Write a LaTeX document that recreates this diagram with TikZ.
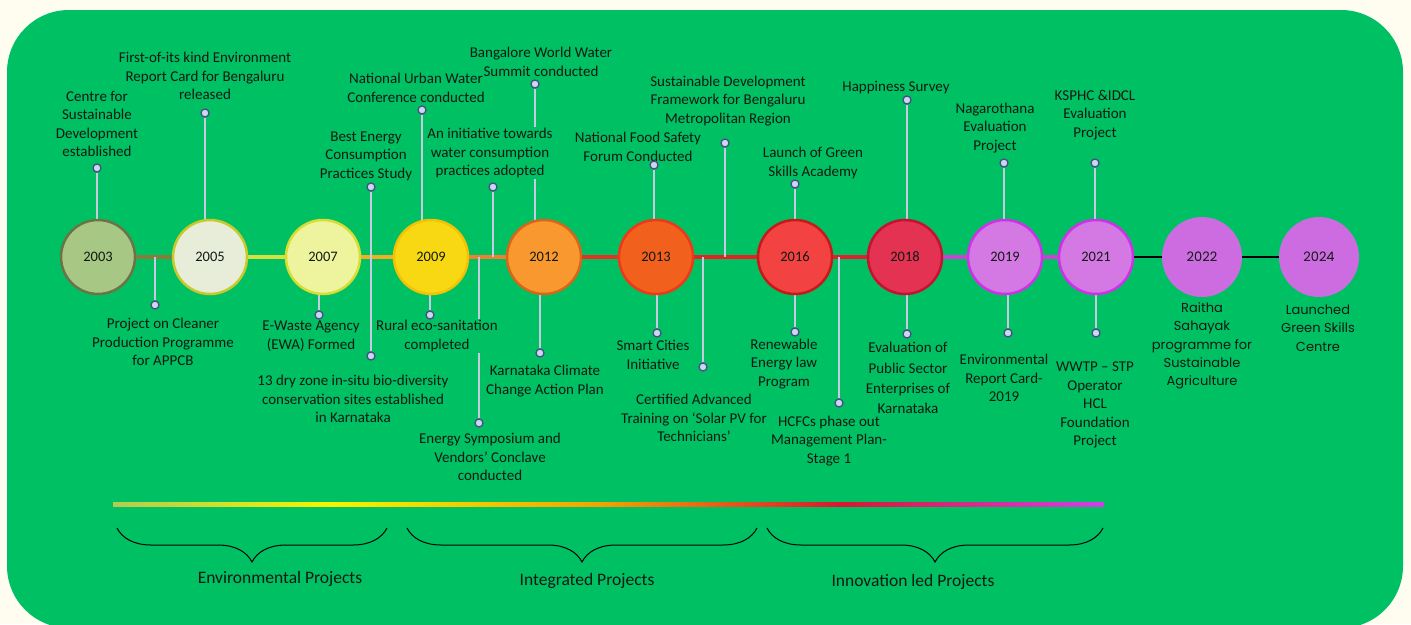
\documentclass[tikz,border=0pt]{standalone}
\usepackage{fontspec}
\setmainfont{Carlito}
\newfontfamily\popfont{Poppins}
\usetikzlibrary{backgrounds, decorations.pathreplacing}

\definecolor{paper}{HTML}{FFFDF0}
\definecolor{boxgreen}{HTML}{00C064}
\definecolor{ink}{HTML}{101A12}
\definecolor{stemgray}{HTML}{C6CBE0}
\definecolor{dotfill}{HTML}{CBD7F2}
\definecolor{dotrim}{HTML}{46507E}
\definecolor{lilac}{HTML}{CC6CE0}
% circle fills and rims
\definecolor{fillA}{HTML}{A6C884}\definecolor{rimA}{HTML}{6C7446}
\definecolor{fillB}{HTML}{E7EDD9}\definecolor{rimB}{HTML}{C9C92A}
\definecolor{fillC}{HTML}{EEF49E}\definecolor{rimC}{HTML}{D9DD32}
\definecolor{fillD}{HTML}{F8D812}\definecolor{rimD}{HTML}{F4C204}
\definecolor{fillE}{HTML}{F8982E}\definecolor{rimE}{HTML}{D8661A}
\definecolor{fillF}{HTML}{F2601E}\definecolor{rimF}{HTML}{F03818}
\definecolor{fillG}{HTML}{F24242}\definecolor{rimG}{HTML}{C81818}
\definecolor{fillH}{HTML}{E43252}\definecolor{rimH}{HTML}{C81030}
\definecolor{fillI}{HTML}{D478E4}\definecolor{rimI}{HTML}{D030E8}
% links
\definecolor{linkA}{HTML}{8B7B3A}
\definecolor{linkB}{HTML}{D8E040}
\definecolor{linkC}{HTML}{F2B020}
\definecolor{linkD}{HTML}{F08030}
\definecolor{linkE}{HTML}{E83020}
\definecolor{linkF}{HTML}{E82020}
\definecolor{linkG}{HTML}{E02030}
\definecolor{linkH}{HTML}{D040D8}
% colour bar
\definecolor{barA}{HTML}{B2CC52}
\definecolor{barB}{HTML}{F6F400}
\definecolor{barC}{HTML}{F2A400}
\definecolor{barD}{HTML}{D81830}
\definecolor{barE}{HTML}{D040E8}

\begin{document}
\begin{tikzpicture}[
        x=1pt, y=-1pt,
        yearnode/.style={circle, minimum size=74pt, inner sep=0pt, line width=2.5pt,
            text=ink, font=\fontsize{14.5}{16}\selectfont},
        lateyear/.style={circle, minimum size=80pt, inner sep=0pt, fill=lilac,
            text=ink, font=\popfont\fontsize{13}{15}\selectfont},
        lbl/.style={align=center, text=ink, inner sep=1pt,
            font=\fontsize{15}{18.5}\selectfont},
        poplbl/.style={align=center, text=ink, inner sep=1pt,
            font=\popfont\fontsize{13}{18.3}\selectfont},
        masked/.style={fill=boxgreen, inner xsep=0pt},
        dotend/.style={circle, draw=dotrim, fill=dotfill, line width=1.3pt,
            minimum size=8pt, inner sep=0pt},
        stem/.style={draw=stemgray, line width=2.5pt},
        link/.style={line width=3.5pt},
        bracket/.style={decorate, decoration={brace, mirror, amplitude=34pt}, line width=1pt},
        grouplbl/.style={text=ink, font=\fontsize{17.5}{19}\selectfont}
    ]

    \useasboundingbox (0,0) rectangle (1411,624);
    \begin{pgfonlayer}{background}
        \fill[paper] (0,0) rectangle (1411,624);
        \fill[boxgreen, rounded corners=62pt] (7,10) rectangle (1403,628);
    \end{pgfonlayer}

    % years
    \node[yearnode, fill=fillA, draw=rimA] (y2003) at (98,257) {2003};
    \node[yearnode, fill=fillB, draw=rimB] (y2005) at (210,257) {2005};
    \node[yearnode, fill=fillC, draw=rimC] (y2007) at (323,257) {2007};
    \node[yearnode, fill=fillD, draw=rimD] (y2009) at (431,257) {2009};
    \node[yearnode, fill=fillE, draw=rimE] (y2012) at (544,257) {2012};
    \node[yearnode, fill=fillF, draw=rimF] (y2013) at (656,257) {2013};
    \node[yearnode, fill=fillG, draw=rimG] (y2016) at (795,257) {2016};
    \node[yearnode, fill=fillH, draw=rimH] (y2018) at (905,257) {2018};
    \node[yearnode, fill=fillI, draw=rimI] (y2019) at (1005,257) {2019};
    \node[yearnode, fill=fillI, draw=rimI] (y2021) at (1096,257) {2021};
    \node[lateyear] (y2022) at (1202,257) {2022};
    \node[lateyear] (y2024) at (1319,257) {2024};

    % labels above the line
    \node[lbl] (l03) at (97,124) {Centre for\\Sustainable\\Development\\established};
    \node[lbl] (l05) at (205,76) {First-of-its kind Environment\\Report Card for Bengaluru\\released};
    \node[lbl] (l07) at (366,156) {Best Energy\\Consumption\\Practices Study};
    \node[lbl] (l09) at (416,88) {National Urban Water\\Conference conducted};
    \node[lbl, masked] (l09b) at (490,153) {An initiative towards\\water consumption\\practices adopted};
    \node[lbl] (l12) at (541,62) {Bangalore World Water\\Summit conducted};
    \node[lbl] (l13) at (638,147) {National Food Safety\\Forum Conducted};
    \node[lbl] (l13b) at (728,101) {Sustainable Development\\Framework for Bengaluru\\Metropolitan Region};
    \node[lbl] (l16) at (813,163) {Launch of Green\\Skills Academy};
    \node[lbl] (l18) at (896,88) {Happiness Survey};
    \node[lbl] (l19) at (995,128) {Nagarothana\\Evaluation\\Project};
    \node[lbl] (l21) at (1095,115) {KSPHC \&IDCL\\Evaluation\\Project};

    % labels below the line
    \node[lbl] (m05) at (163,342) {Project on Cleaner\\Production Programme\\for APPCB};
    \node[lbl] (m07) at (311,336) {E-Waste Agency\\(EWA) Formed};
    \node[lbl] (m07b) at (353,399) {13 dry zone in-situ bio-diversity\\conservation sites established\\in Karnataka};
    \node[lbl, masked] (m09) at (437,336) {Rural eco-sanitation\\completed};
    \node[lbl] (m09b) at (490,457) {Energy Symposium and\\Vendors’ Conclave\\conducted};
    \node[lbl] (m12) at (545,381) {Karnataka Climate\\Change Action Plan};
    \node[lbl] (m13) at (653,355) {Smart Cities\\Initiative};
    \node[lbl] (m13b) at (694,418) {Certified Advanced\\Training on ‘Solar PV for\\Technicians’};
    \node[lbl] (m16) at (784,364) {Renewable\\Energy law\\Program};
    \node[lbl] (m16b) at (829,441) {HCFCs phase out\\Management Plan-\\Stage 1};
    \node[lbl, font=\fontsize{15}{20.3}\selectfont] (m18) at (908,378) {Evaluation of\\Public Sector\\Enterprises of\\Karnataka};
    \node[lbl] (m19) at (1004,378) {Environmental\\Report Card-\\2019};
    \node[lbl] (m21) at (1095,405) {WWTP – STP\\Operator\\HCL\\Foundation\\Project};
    \node[poplbl] (m22) at (1202,346) {Raitha\\Sahayak\\programme for\\Sustainable\\Agriculture};
    \node[poplbl] (m24) at (1318,328) {Launched\\Green Skills\\Centre};

    % stem ends
    \node[dotend] (t03) at (97,168) {};
    \node[dotend] (t05) at (205,113) {};
    \node[dotend] (t07) at (371,187) {};
    \node[dotend] (t09) at (422,110) {};
    \node[dotend] (t09b) at (493,187) {};
    \node[dotend] (t12) at (535,84) {};
    \node[dotend] (t13) at (654,165) {};
    \node[dotend] (t13b) at (725,143) {};
    \node[dotend] (t16) at (795,184) {};
    \node[dotend] (t18) at (907,100) {};
    \node[dotend] (t19) at (1004,163) {};
    \node[dotend] (t21) at (1095,163) {};
    \node[dotend] (b05) at (155,305) {};
    \node[dotend] (b07) at (319,315) {};
    \node[dotend] (b07b) at (371,356) {};
    \node[dotend] (b09) at (430,315) {};
    \node[dotend] (b09b) at (479,423) {};
    \node[dotend] (b12) at (540,353) {};
    \node[dotend] (b13) at (657,333) {};
    \node[dotend] (b13b) at (703,367) {};
    \node[dotend] (b16) at (795,332) {};
    \node[dotend] (b16b) at (839,403) {};
    \node[dotend] (b18) at (907,334) {};
    \node[dotend] (b19) at (1008,333) {};
    \node[dotend] (b21) at (1096,333) {};

    \begin{pgfonlayer}{background}
        % timeline links
        \draw[link, draw=linkA] (y2003) -- (y2005);
        \draw[link, draw=linkB] (y2005) -- (y2007);
        \draw[link, draw=linkC] (y2007) -- (y2009);
        \draw[link, draw=linkD] (y2009) -- (y2012);
        \draw[link, draw=linkE] (y2012) -- (y2013);
        \draw[link, draw=linkF] (y2013) -- (y2016);
        \draw[link, draw=linkG] (y2016) -- (y2018);
        \draw[link, draw=linkH] (y2018) -- (y2019);
        \draw[link, draw=linkH] (y2019) -- (y2021);
        \draw[line width=2.5pt, draw=black] (y2021) -- (y2022);
        \draw[line width=2.5pt, draw=black] (y2022) -- (y2024);
        % stems
        \draw[stem] (t03) -- (t03 |- y2003);
        \draw[stem] (t05) -- (t05 |- y2005);
        \draw[stem] (t07) -- (t07 |- y2007);
        \draw[stem] (t09) -- (t09 |- y2009);
        \draw[stem] (t09b) -- (t09b |- y2009);
        \draw[stem] (t12) -- (t12 |- y2012);
        \draw[stem] (t13) -- (t13 |- y2013);
        \draw[stem] (t13b) -- (t13b |- y2013);
        \draw[stem] (t16) -- (t16 |- y2016);
        \draw[stem] (t18) -- (t18 |- y2018);
        \draw[stem] (t19) -- (t19 |- y2019);
        \draw[stem] (t21) -- (t21 |- y2021);
        \draw[stem] (b05) -- (b05 |- y2003);
        \draw[stem] (b07) -- (b07 |- y2007);
        \draw[stem] (b07b) -- (b07b |- y2007);
        \draw[stem] (b09) -- (b09 |- y2009);
        \draw[stem] (b09b) -- (b09b |- y2009);
        \draw[stem] (b12) -- (b12 |- y2012);
        \draw[stem] (b13) -- (b13 |- y2013);
        \draw[stem] (b13b) -- (b13b |- y2013);
        \draw[stem] (b16) -- (b16 |- y2016);
        \draw[stem] (b16b) -- (b16b |- y2016);
        \draw[stem] (b18) -- (b18 |- y2018);
        \draw[stem] (b19) -- (b19 |- y2019);
        \draw[stem] (b21) -- (b21 |- y2021);
    \end{pgfonlayer}

    % colour bar
    \shade[left color=barA, right color=barB] (113,502) rectangle (330,506);
    \shade[left color=barB, right color=barC] (330,502) rectangle (600,506);
    \shade[left color=barC, right color=barD] (600,502) rectangle (840,506);
    \shade[left color=barD, right color=barE] (840,502) rectangle (1104,506);

    % project groups
    \coordinate (g1a) at (117,528);
    \coordinate (g1b) at (387,528);
    \coordinate (g2a) at (407,528);
    \coordinate (g2b) at (757,528);
    \coordinate (g3a) at (767,528);
    \coordinate (g3b) at (1103,528);
    \draw[bracket] (g1a) -- (g1b);
    \draw[bracket] (g2a) -- (g2b);
    \draw[bracket] (g3a) -- (g3b);
    \node[grouplbl] (env) at (280,579) {Environmental Projects};
    \node[grouplbl] (intg) at (587,581) {Integrated Projects};
    \node[grouplbl] (innov) at (913,582) {Innovation led Projects};
\end{tikzpicture}
\end{document}
